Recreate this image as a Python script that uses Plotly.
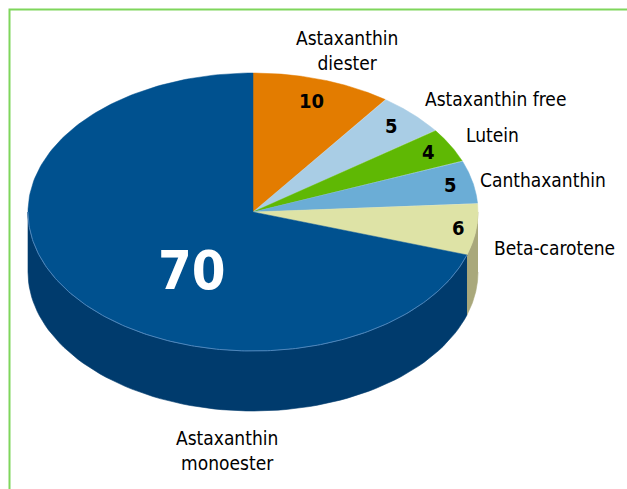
import numpy as np
import plotly.graph_objects as go

# ---- data ----
labels = ["Astaxanthin<br>diester", "Astaxanthin free", "Lutein", "Canthaxanthin",
          "Beta-carotene", "Astaxanthin<br>monoester"]
values = [10, 5, 4, 5, 6, 70]

# ---- style ----
top_colors = ["#e37c00", "#a9cde5", "#5fb804", "#6badd6", "#dee3a6", "#00518f"]
side_colors = ["#a85c00", "#7e9aac", "#468a03", "#5081a0", "#a9a87b", "#003b6d"]
W, H = 627, 489
CX, CY, RX, RY, DEPTH = 253, 212, 225, 139, 60
FONT = "DejaVu Sans Condensed, Liberation Sans Narrow, sans-serif"

# label placement (pixel space), anchors
label_pos = [(347, 50, "center"), (423, 99, "left"), (464, 135, "left"),
             (478, 180, "left"), (492, 248, "left"), (227, 450, "center")]
# value-label placement: radius fraction and angle offset from slice middle
num_r = [0.84, 0.87, 0.89, 0.9, 0.92, 0.5]
num_da = [0, 0, 0, 0, 0, -21]
num_size = [20, 20, 20, 20, 20, 54]
num_color = ["black"] * 5 + ["white"]


def ell(theta_deg, r=1.0, dy=0.0):
    t = np.radians(theta_deg)
    return CX + r * RX * np.sin(t), CY - r * RY * np.cos(t) + dy


total = sum(values)
bounds = np.concatenate([[0], np.cumsum(values)]) / total * 360.0

fig = go.Figure()

# side walls (front half only: 90..270 deg)
for i in range(len(values)):
    lo, hi = max(bounds[i], 90), min(bounds[i + 1], 270)
    if lo >= hi:
        continue
    th = np.linspace(lo, hi, 80)
    xt, yt = ell(th)
    xb, yb = ell(th[::-1], dy=DEPTH)
    fig.add_trace(go.Scatter(x=np.concatenate([xt, xb]), y=np.concatenate([yt, yb]),
                             fill="toself", fillcolor=side_colors[i], mode="lines",
                             line=dict(width=0.6, color=side_colors[i]), hoverinfo="skip",
                             showlegend=False))

# top face slices
for i in range(len(values)):
    th = np.linspace(bounds[i], bounds[i + 1], 200)
    xa, ya = ell(th)
    fig.add_trace(go.Scatter(x=np.concatenate([[CX], xa, [CX]]),
                             y=np.concatenate([[CY], ya, [CY]]),
                             fill="toself", fillcolor=top_colors[i], mode="lines",
                             line=dict(width=0.5, color=top_colors[i]), hoverinfo="skip",
                             showlegend=False))

# light rim along front edge
th = np.linspace(bounds[-2], 270, 200)
xr, yr = ell(th)
fig.add_trace(go.Scatter(x=xr, y=yr, mode="lines", line=dict(width=1, color="#4f86bb"),
                         hoverinfo="skip", showlegend=False))

annotations = []
for i, lab in enumerate(labels):
    lx, ly, anc = label_pos[i]
    annotations.append(dict(x=lx, y=ly, text=lab, showarrow=False, xanchor=anc,
                            yanchor="middle", align="center",
                            font=dict(family=FONT, size=19, color="black")))
    mid = (bounds[i] + bounds[i + 1]) / 2 + num_da[i]
    nx, ny = ell(mid, r=num_r[i])
    annotations.append(dict(x=nx, y=ny, text="<b>%d</b>" % values[i], showarrow=False,
                            xanchor="center", yanchor="middle",
                            font=dict(family=FONT, size=num_size[i], color=num_color[i])))

fig.update_layout(
    width=W, height=H, margin=dict(l=0, r=0, t=0, b=0),
    paper_bgcolor="white", plot_bgcolor="white",
    xaxis=dict(range=[0, W], visible=False, fixedrange=True),
    yaxis=dict(range=[H, 0], visible=False, fixedrange=True),
    annotations=annotations,
    shapes=[dict(type="path", path="M 9.5 %d L 9.5 9.5 L %d 9.5" % (H, W), xref="x", yref="y",
                 line=dict(color="#7fd65c", width=2))],
)

fig.write_html("out.html", config={"displayModeBar": False},
               post_script="document.body.style.margin='0';document.body.style.overflow='hidden';")
